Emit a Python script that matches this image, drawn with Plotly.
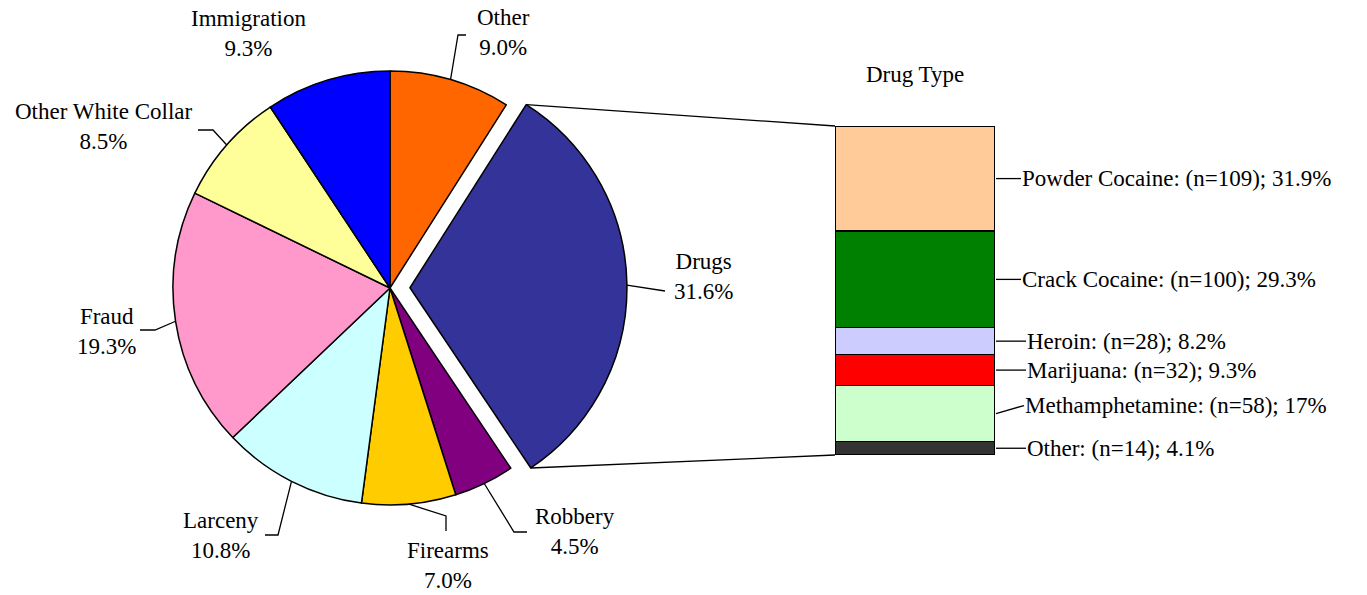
import math
import plotly.graph_objects as go

# ---------------- data ----------------
offense_labels = ["Other", "Drugs", "Robbery", "Firearms", "Larceny", "Fraud",
                  "Other White Collar", "Immigration"]
offense_pct = [9.0, 31.6, 4.5, 7.0, 10.8, 19.3, 8.5, 9.3]
offense_colors = ["#FF6600", "#333399", "#800080", "#FFCC00", "#CCFFFF", "#FF99CC",
                  "#FFFF99", "#0000FF"]

drug_labels = ["Powder Cocaine", "Crack Cocaine", "Heroin", "Marijuana",
               "Methamphetamine", "Other"]
drug_n = [109, 100, 28, 32, 58, 14]
drug_pct_text = ["31.9%", "29.3%", "8.2%", "9.3%", "17%", "4.1%"]
drug_colors = ["#FFCC99", "#008000", "#CCCCFF", "#FF0000", "#CCFFCC", "#333333"]

# ---------------- layout constants (pixels, screen coordinates) ----------------
W, H = 1367, 595
PAGE_OFF = 8  # default page margin around the figure
FONT = dict(family="Liberation Serif", size=23, color="black")
PIE_CX, PIE_CY, PIE_R = 390, 288, 217
PULL = 0.092
BAR_X0, BAR_X1, BAR_TOP, BAR_BOT = 835, 995, 126, 455

pie_label_pos = {
    "Immigration": (248, 34),
    "Other": (503, 33),
    "Other White Collar": (103, 127),
    "Fraud": (107, 331),
    "Larceny": (221, 535),
    "Firearms": (448, 565),
    "Robbery": (575, 531),
    "Drugs": (703, 276),
}
pie_leader_elbows = {
    "Other": [(458, 35), (466, 35)],
    "Other White Collar": [(213, 130), (198, 130)],
    "Fraud": [(155, 330), (140, 330)],
    "Larceny": [(278, 535), (265, 535)],
    "Firearms": [(446, 516), (446, 531)],
    "Robbery": [(514, 532), (527, 532)],
    "Drugs": [(665, 291)],
}
bar_label_x = [1022, 1022, 1027, 1027, 1025, 1027]
bar_label_shift_px = [0, 0, 0, 0, -8, 0]   # negative = upward on screen


def px(x):
    return (x - PAGE_OFF) / W


def py(y):
    return 1 - (y - PAGE_OFF) / H


# ---------------- pie ----------------
rbox = PIE_R * (1 + PULL)
pie_domain_x = [px(PIE_CX - rbox), px(PIE_CX + rbox)]
pie_domain_y = [py(PIE_CY + rbox), py(PIE_CY - rbox)]
pulls = [PULL if lab == "Drugs" else 0 for lab in offense_labels]

fig = go.Figure()
fig.add_trace(go.Pie(
    labels=offense_labels, values=offense_pct, sort=False, direction="clockwise",
    rotation=0, pull=pulls, textinfo="none", hoverinfo="label+percent",
    marker=dict(colors=offense_colors, line=dict(color="black", width=1.5)),
    domain=dict(x=pie_domain_x, y=pie_domain_y), showlegend=False,
))

total = sum(offense_pct)
angles = {}
cum = 0.0
for lab, v in zip(offense_labels, offense_pct):
    a0 = 2 * math.pi * cum / total
    cum += v
    a1 = 2 * math.pi * cum / total
    angles[lab] = (a0, a1)


def arc_point(theta, r=PIE_R, off=(0, 0)):
    return (PIE_CX + off[0] + r * math.sin(theta), PIE_CY + off[1] - r * math.cos(theta))


shapes = []
annotations = []

d0, d1 = angles["Drugs"]
dm = (d0 + d1) / 2
drug_off = (PULL * PIE_R * math.sin(dm), -PULL * PIE_R * math.cos(dm))

for lab in offense_labels:
    a0, a1 = angles[lab]
    off = drug_off if lab == "Drugs" else (0, 0)
    start = arc_point((a0 + a1) / 2, off=off)
    if lab in pie_leader_elbows:
        pts = [start] + pie_leader_elbows[lab]
        path = "M " + " L ".join(f"{px(x):.5f},{py(y):.5f}" for x, y in pts)
        shapes.append(dict(type="path", path=path, xref="paper", yref="paper",
                           line=dict(color="black", width=1.3)))
    lx, ly = pie_label_pos[lab]
    pct = offense_pct[offense_labels.index(lab)]
    annotations.append(dict(text=f"{lab}<br>{pct:.1f}%", x=px(lx), y=py(ly),
                            xref="paper", yref="paper", xanchor="center",
                            yanchor="middle", showarrow=False, font=FONT))

p_start = arc_point(d0, off=drug_off)
p_end = arc_point(d1, off=drug_off)
for (x0, y0), (x1, y1) in [(p_start, (BAR_X0, BAR_TOP)), (p_end, (BAR_X0, BAR_BOT))]:
    shapes.append(dict(type="line", xref="paper", yref="paper",
                       x0=px(x0), y0=py(y0), x1=px(x1), y1=py(y1),
                       line=dict(color="black", width=1.3)))

# ---------------- stacked bar ----------------
n_total = sum(drug_n)
for lab, n, col in reversed(list(zip(drug_labels, drug_n, drug_colors))):
    fig.add_trace(go.Bar(x=[0], y=[n], width=1, name=lab, showlegend=False,
                         marker=dict(color=col, line=dict(color="black", width=1.5)),
                         xaxis="x", yaxis="y", hoverinfo="name+y"))

data_per_px = n_total / (BAR_BOT - BAR_TOP)
bottom = 0
mids = {}
for lab, n in reversed(list(zip(drug_labels, drug_n))):
    mids[lab] = bottom + n / 2
    bottom += n

for i, (lab, n, pt) in enumerate(zip(drug_labels, drug_n, drug_pct_text)):
    ymid = mids[lab]
    ylab = ymid - bar_label_shift_px[i] * data_per_px
    annotations.append(dict(text=f"{lab}: (n={n}); {pt}", x=px(bar_label_x[i]), y=ylab,
                            xref="paper", yref="y", xanchor="left", yanchor="middle",
                            showarrow=False, font=FONT, xshift=-2))
    shapes.append(dict(type="line", xref="paper", yref="y",
                       x0=px(BAR_X1 + 1), y0=ymid, x1=px(bar_label_x[i] - 1), y1=ylab,
                       line=dict(color="black", width=1.3)))

annotations.append(dict(text="Drug Type", x=px((BAR_X0 + BAR_X1) / 2), y=py(74),
                        xref="paper", yref="paper", xanchor="center", yanchor="middle",
                        showarrow=False, font=FONT))

fig.update_layout(
    width=W, height=H, margin=dict(l=0, r=0, t=0, b=0),
    paper_bgcolor="white", plot_bgcolor="white", barmode="stack",
    xaxis=dict(domain=[px(BAR_X0), px(BAR_X1)], range=[-0.5, 0.5], visible=False,
               fixedrange=True),
    yaxis=dict(domain=[py(BAR_BOT), py(BAR_TOP)], range=[0, n_total],
               visible=False, fixedrange=True),
    shapes=shapes, annotations=annotations, font=FONT,
)

fig.write_html("out.html")
